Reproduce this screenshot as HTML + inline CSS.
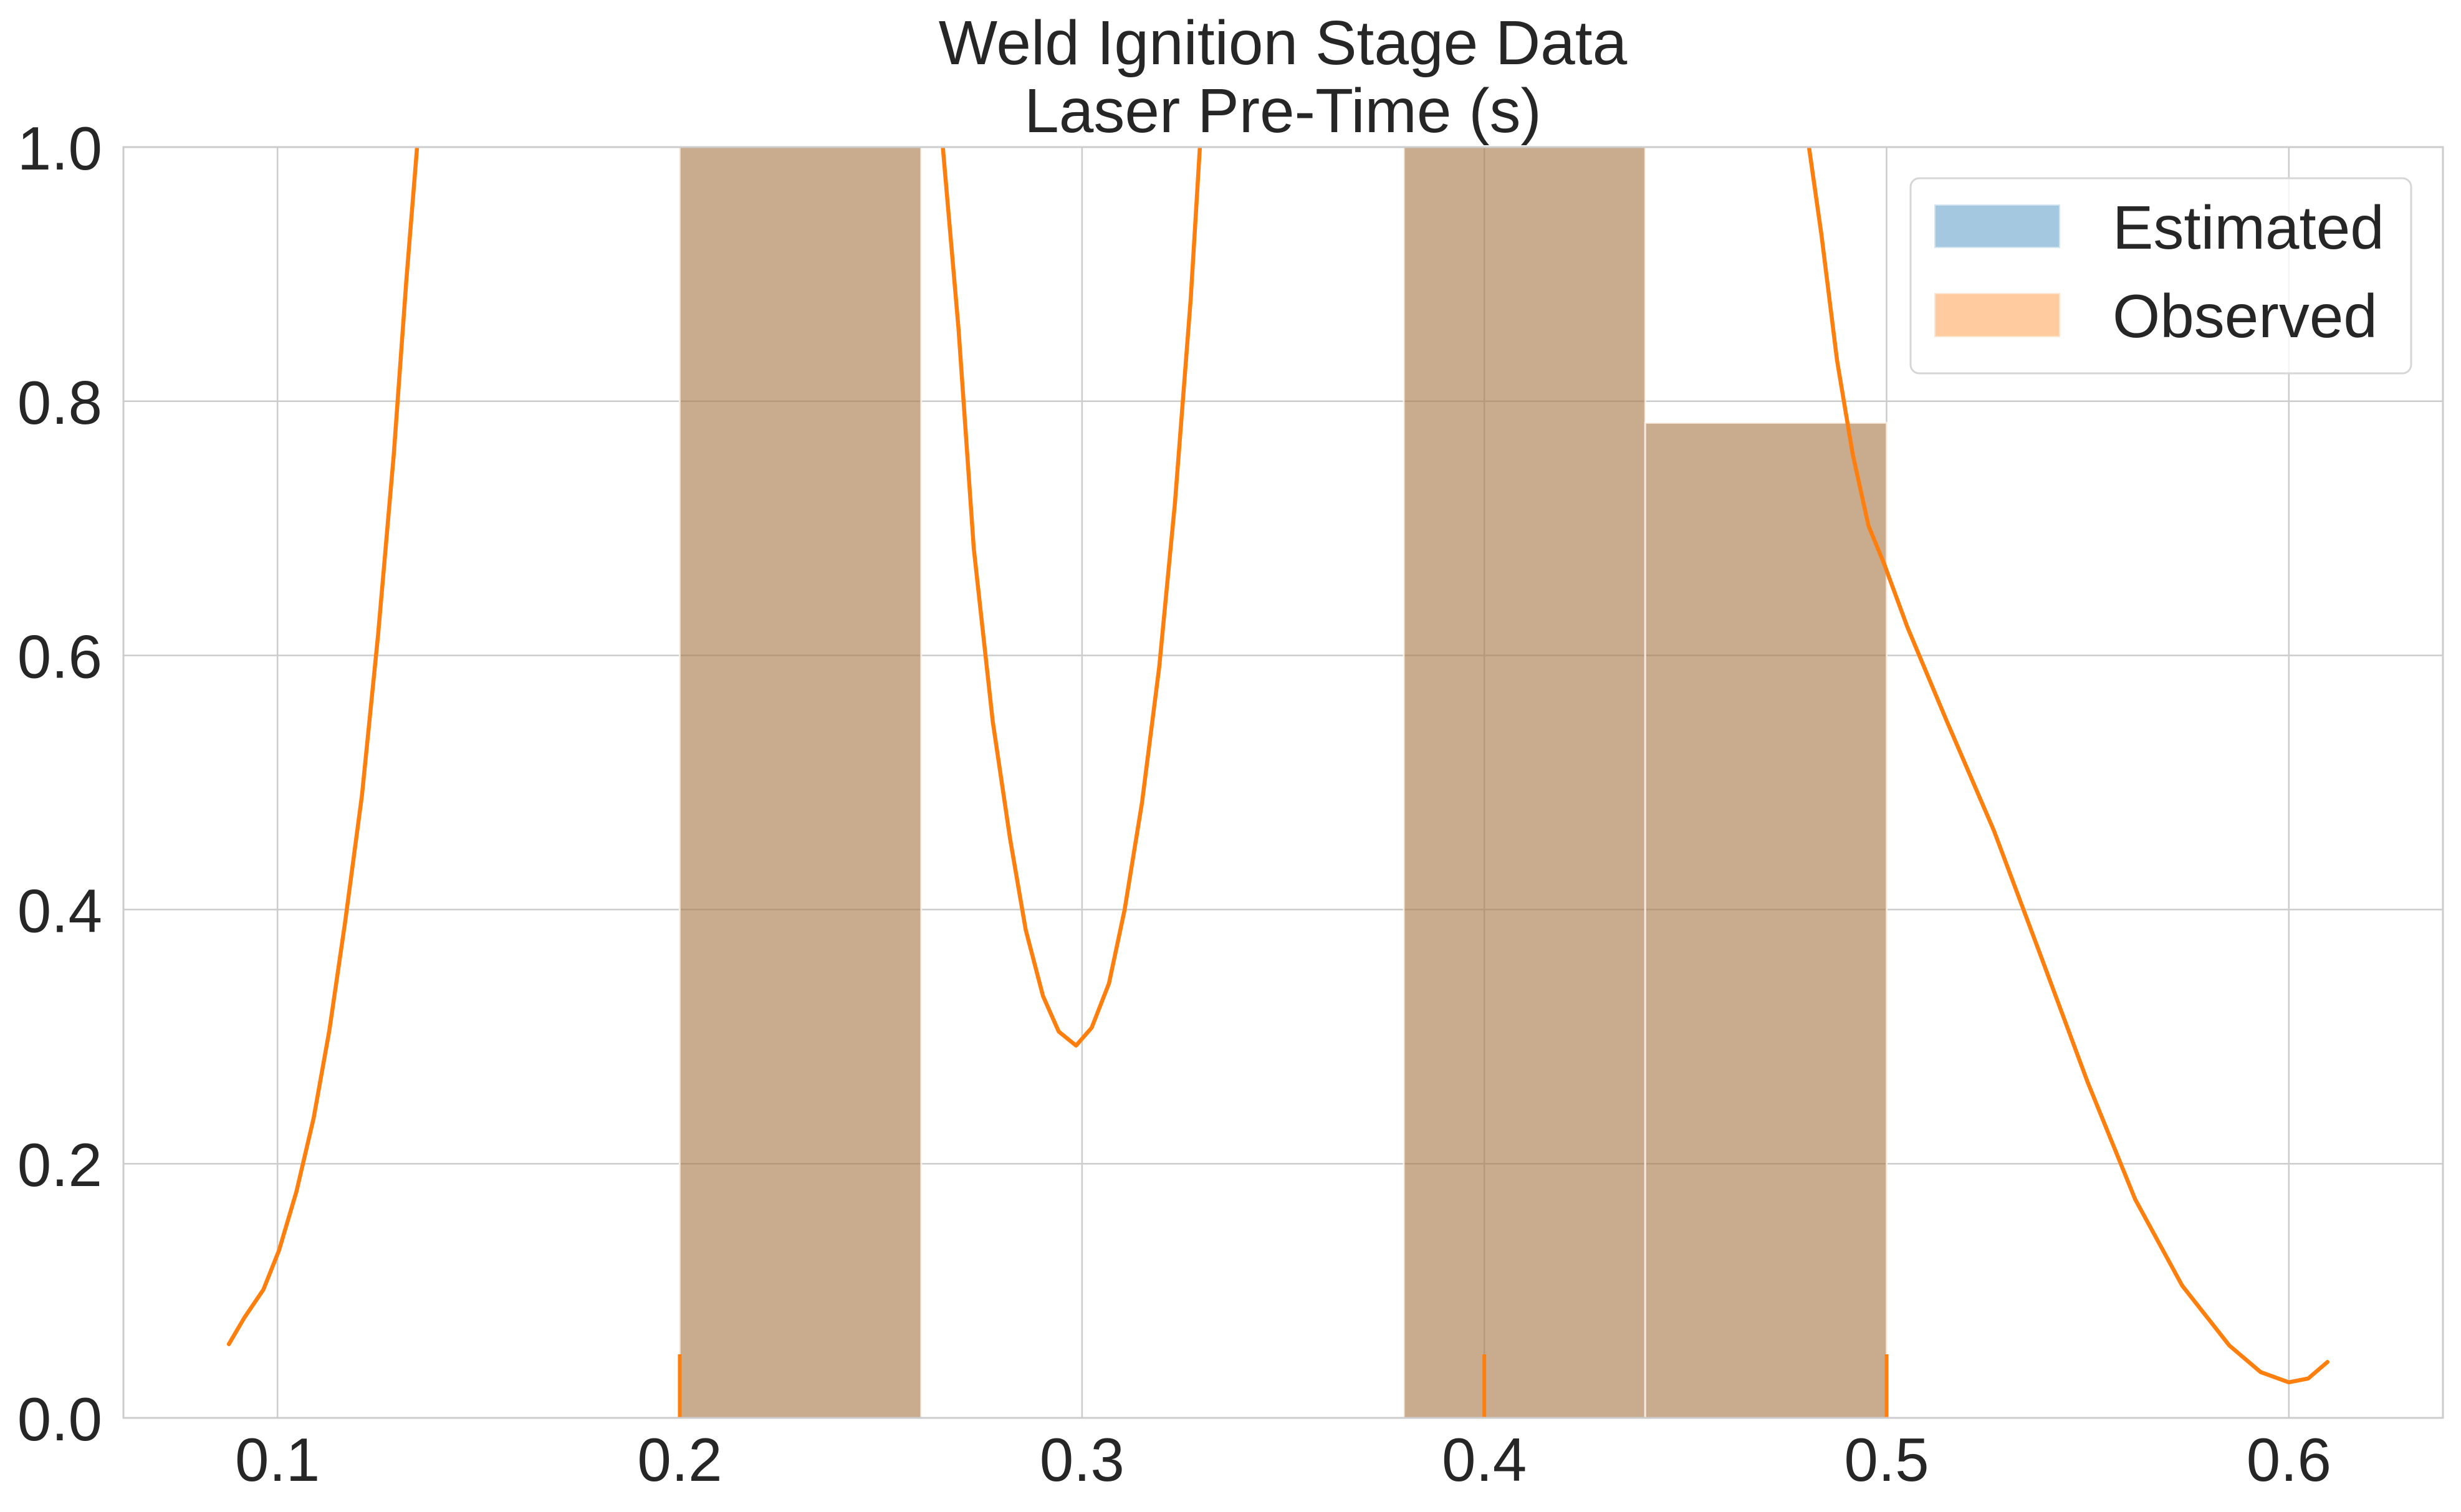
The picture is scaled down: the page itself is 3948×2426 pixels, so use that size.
<!DOCTYPE html>
<html><head><meta charset="utf-8"><style>
html,body{margin:0;padding:0;background:#fff;}
svg{display:block;font-family:"Liberation Sans",Arial,sans-serif;}
</style></head><body>
<svg id="chart" width="3948" height="2426" viewBox="0 0 3948 2426" xmlns="http://www.w3.org/2000/svg">
<defs><clipPath id="plotclip"><rect x="198" y="236" width="3721" height="2039"/></clipPath></defs>
<rect x="0" y="0" width="3948" height="2426" fill="#fff"/>
<g id="grid"></g>
<g id="bars" clip-path="url(#plotclip)"></g>
<g id="kde" clip-path="url(#plotclip)"></g>
<g id="rug"></g>
<rect x="198" y="236" width="3721" height="2039" fill="none" stroke="#cccccc" stroke-width="3"/>
<g id="xticks"></g>
<g id="yticks"></g>
<text x="2058" y="103" text-anchor="middle" font-size="100" fill="#262626">Weld Ignition Stage Data</text>
<text x="2058" y="212" text-anchor="middle" font-size="100" fill="#262626">Laser Pre-Time (s)</text>
<g>
<rect x="3065" y="286" width="803" height="313" rx="14" fill="#fff" fill-opacity="0.8" stroke="#d6d6d6" stroke-width="3"/>
<g>
<rect x="3104" y="329" width="200" height="68" fill="#a5c8e1" stroke="#d2e4f0" stroke-width="2"/>
<text x="3389" y="399" font-size="98" fill="#262626">Estimated</text>
</g>
<g>
<rect x="3104" y="471" width="200" height="69" fill="#ffcb9f" stroke="#ffe5cf" stroke-width="2"/>
<text x="3389" y="541" font-size="98" fill="#262626">Observed</text>
</g>
</g>
</svg>
<script>
const binEdges = [0.20, 0.26, 0.32, 0.38, 0.44, 0.50];
const estimatedHeights = [1.25, 0, 0, 1.25, 0.783];
const observedHeights = [1.25, 0, 0, 1.25, 0.783];
const kdeX = [0.0879,0.0918,0.0965,0.1004,0.1047,0.109,0.1129,0.1168,0.121,0.125,0.1289,0.132,0.1347,0.145,0.2,0.255,0.2654,0.2693,0.2731,0.2778,0.2821,0.286,0.2903,0.2942,0.2985,0.3024,0.3067,0.3106,0.3149,0.3192,0.3231,0.327,0.3293,0.34,0.4,0.47,0.4807,0.4838,0.4877,0.4916,0.4955,0.4994,0.5052,0.515,0.5267,0.5384,0.55,0.5618,0.5735,0.5852,0.593,0.6,0.6048,0.6096];
const kdeY = [0.058,0.079,0.101,0.132,0.178,0.236,0.305,0.39,0.49,0.616,0.758,0.894,1.0,1.4,3.0,1.4,1.0,0.857,0.684,0.548,0.456,0.384,0.332,0.304,0.293,0.307,0.342,0.4,0.484,0.591,0.72,0.88,1.0,1.4,3.0,1.4,1.0,0.931,0.832,0.758,0.702,0.672,0.622,0.548,0.462,0.363,0.264,0.172,0.104,0.057,0.036,0.028,0.031,0.044];
const rugValues = [0.2, 0.4, 0.5];
const xTicks = [0.1, 0.2, 0.3, 0.4, 0.5, 0.6];
const xTickLabels = ["0.1","0.2","0.3","0.4","0.5","0.6"];
const yTicks = [0.0, 0.2, 0.4, 0.6, 0.8, 1.0];
const yTickLabels = ["0.0","0.2","0.4","0.6","0.8","1.0"];

const NS = "http://www.w3.org/2000/svg";
const X0 = 198, X1 = 3919, Y0 = 2275, Y1 = 236;
const xmin = 0.0617, xmax = 0.6383;
function sx(v){ return X0 + (v - xmin) / (xmax - xmin) * (X1 - X0); }
function sy(v){ return Y0 - v * (Y0 - Y1); }
function mk(tag, attrs, parent){
  const el = document.createElementNS(NS, tag);
  for (const k in attrs) el.setAttribute(k, attrs[k]);
  parent.appendChild(el);
  return el;
}
const grid = document.getElementById('grid');
xTicks.forEach((t) => {
  const l = mk('line', {x1: sx(t), x2: sx(t), y1: Y1, y2: Y0, stroke: '#cccccc', 'stroke-width': 2.5}, grid);
  
  
});
yTicks.forEach((t) => {
  const l = mk('line', {x1: X0, x2: X1, y1: sy(t), y2: sy(t), stroke: '#cccccc', 'stroke-width': 2.5}, grid);
  
  
});
const bars = document.getElementById('bars');
[[estimatedHeights, '#1f77b4', 'estimated'], [observedHeights, '#ff7f0e', 'observed']].forEach(([hs, col, nm]) => {
  hs.forEach((h, i) => {
    if (h <= 0) return;
    const x = sx(binEdges[i]), w = sx(binEdges[i+1]) - x;
    const r = mk('rect', {x: x, y: sy(h), width: w, height: sy(0) - sy(h), fill: col, 'fill-opacity': 0.4, stroke: '#ffffff', 'stroke-opacity': 0.5, 'stroke-width': 3}, bars);
    
    
  });
});
const kde = document.getElementById('kde');
let d = '';
kdeX.forEach((v, i) => { d += (i ? 'L' : 'M') + sx(v).toFixed(1) + ',' + sy(kdeY[i]).toFixed(1); });
const p = mk('path', {d: d, fill: 'none', stroke: '#ff7f0e', 'stroke-width': 6.5, 'stroke-linejoin': 'round', 'stroke-linecap': 'round'}, kde);


const rug = document.getElementById('rug');
rugValues.forEach((v) => {
  const l = mk('line', {x1: sx(v), x2: sx(v), y1: sy(0), y2: sy(0.05), stroke: '#ff7f0e', 'stroke-width': 6}, rug);
  
  
});
const xt = document.getElementById('xticks');
xTicks.forEach((t, i) => {
  const tx = mk('text', {x: sx(t), y: 2376, 'text-anchor': 'middle', 'font-size': 98, fill: '#262626'}, xt);
  tx.textContent = xTickLabels[i];
  
  
});
const yt = document.getElementById('yticks');
yTicks.forEach((t, i) => {
  const tx = mk('text', {x: 164, y: sy(t) + 36, 'text-anchor': 'end', 'font-size': 98, fill: '#262626'}, yt);
  tx.textContent = yTickLabels[i];
  
  
});
</script>
</body></html>
